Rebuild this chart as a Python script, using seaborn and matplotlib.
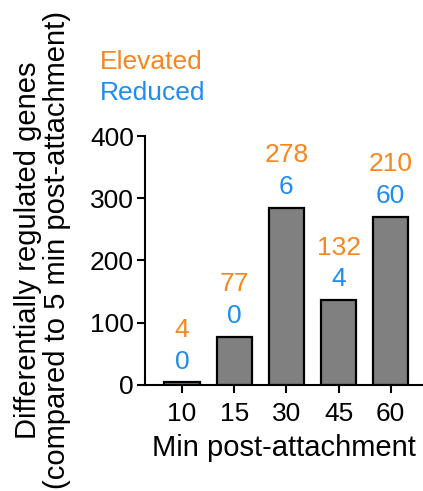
import matplotlib
matplotlib.use('Agg')
import matplotlib.pyplot as plt
import seaborn as sns
import pandas as pd

minutes = ['10', '15', '30', '45', '60']
elevated = [4, 77, 278, 132, 210]
reduced = [0, 0, 6, 4, 60]
totals = [e + r for e, r in zip(elevated, reduced)]

ORANGE = '#F7861E'
BLUE = '#1E8CF0'
FS = 19
LABEL_FS = 21

sns.set_style('ticks')
plt.rcParams['font.family'] = ['Liberation Sans', 'DejaVu Sans']
plt.rcParams['text.color'] = 'black'
plt.rcParams['axes.labelcolor'] = 'black'
plt.rcParams['xtick.color'] = 'black'
plt.rcParams['ytick.color'] = 'black'
plt.rcParams['axes.edgecolor'] = 'black'

df = pd.DataFrame({'minute': minutes, 'genes': totals})

fig = plt.figure(figsize=(4.23, 4.91), dpi=100)
ax = fig.add_axes([0.343, 0.216, 0.657, 0.507])

sns.barplot(data=df, x='minute', y='genes', color='#808080', saturation=1,
            edgecolor='black', linewidth=1.6, width=0.68, ax=ax)

ax.set_ylim(0, 400)
ax.set_xlim(-0.71, 4.62)
ax.set_yticks([0, 100, 200, 300, 400])
ax.tick_params(axis='both', labelsize=FS, width=1.5, length=6, color='black')
ax.tick_params(axis='x', pad=6)
ax.tick_params(axis='y', pad=2)
for s in ['left', 'bottom']:
    ax.spines[s].set_linewidth(1.5)
sns.despine(ax=ax)
ax.set_xlabel('Min post-attachment', fontsize=LABEL_FS, labelpad=6)
ax.set_ylabel('')

# per-bar counts: elevated (orange) above reduced (blue)
for i, (tot, e, r) in enumerate(zip(totals, elevated, reduced)):
    ax.annotate(str(r), (i, tot), xytext=(0, 15), textcoords='offset points',
                ha='center', va='center', color=BLUE, fontsize=FS)
    ax.annotate(str(e), (i, tot), xytext=(0, 38), textcoords='offset points',
                ha='center', va='center', color=ORANGE, fontsize=FS)

fig.text(0.101, 0.49, 'Differentially regulated genes\n(compared to 5 min post-attachment)',
         rotation=90, ha='center', va='center', fontsize=LABEL_FS, linespacing=1.05)
fig.text(0.236, 0.873, 'Elevated', color=ORANGE, fontsize=FS, va='center')
fig.text(0.236, 0.811, 'Reduced', color=BLUE, fontsize=FS, va='center')

fig.savefig('out.png', dpi=100)
